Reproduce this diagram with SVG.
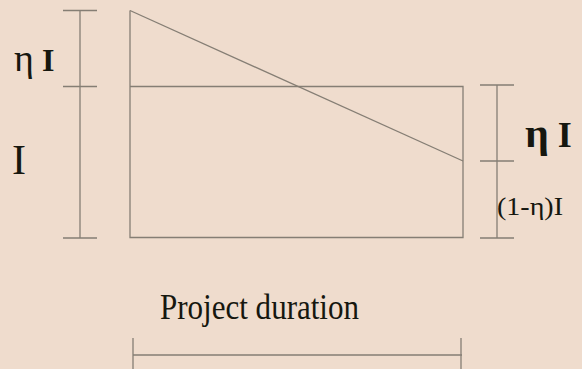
<svg xmlns="http://www.w3.org/2000/svg" width="582" height="369" viewBox="0 0 582 369">
<style>
.ln{stroke:#857e74;stroke-width:1.3;fill:none}
.t{font-family:"Liberation Serif","Times New Roman",serif;fill:#16170f}
</style>
<rect width="582" height="369" fill="#efdccd"/>
<g id="shape">
<path class="ln" d="M130,10.5 L130,237.5 L463,237.5 L463,86.5 L130,86.5"/>
<path class="ln" d="M130,10.5 L463,161"/>
</g>
<g id="connectors">
<path class="ln" d="M80,10.5 V238 M63,10.5 H97 M63,86.5 H97 M63,238 H97"/>
<path class="ln" d="M497,85 V238 M480,85 H514 M480,161 H514 M480,238 H514"/>
<path class="ln" d="M133,355 H462 M133,338 V369 M461,338 V369"/>
</g>
<g id="labels">
<text class="t" x="14" y="71" font-size="32"><tspan font-size="38">η</tspan> <tspan font-weight="bold">I</tspan></text>
<text class="t" x="12" y="174" font-size="42">I</text>
<text class="t" x="525" y="147" font-size="36" font-weight="bold"><tspan font-size="42">η</tspan> I</text>
<text class="t" x="497" y="215" font-size="26" textLength="66" lengthAdjust="spacingAndGlyphs">(1-η)I</text>
<text class="t" x="160" y="319" font-size="35" textLength="199" lengthAdjust="spacingAndGlyphs">Project duration</text>
</g>
</svg>
